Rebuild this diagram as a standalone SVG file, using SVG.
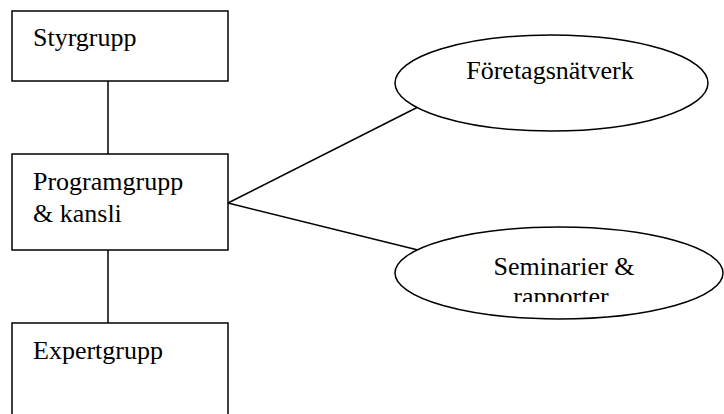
<svg xmlns="http://www.w3.org/2000/svg" width="724" height="414" viewBox="0 0 724 414">
<style>
.box{fill:#fff;stroke:#000;stroke-width:1.5}
.conn line{stroke:#000;stroke-width:1.5}
text{font-family:"Liberation Serif","Times New Roman",serif;font-size:26px;fill:#000}
.c{text-anchor:middle}
</style>
<defs>
<clipPath id="clipSem"><rect x="400" y="240" width="320" height="62"/></clipPath>
</defs>
<g id="connectors" class="conn">
<line x1="108" y1="81" x2="108" y2="154"/>
<line x1="108" y1="250" x2="108" y2="323"/>
<line x1="228" y1="203" x2="418" y2="107"/>
<line x1="228" y1="203" x2="418" y2="250"/>
</g>
<g id="styrgrupp">
<rect class="box" x="12" y="11" width="216" height="70"/>
<text x="33" y="46">Styrgrupp</text>
</g>
<g id="programgrupp">
<rect class="box" x="12" y="154" width="216" height="96"/>
<text x="33" y="190">Programgrupp</text>
<text x="33" y="222">&amp; kansli</text>
</g>
<g id="expertgrupp">
<rect class="box" x="12" y="323" width="216" height="110"/>
<text x="33" y="359">Expertgrupp</text>
</g>
<g id="foretagsnatverk">
<ellipse class="box" cx="551.5" cy="83" rx="156.5" ry="48"/>
<text class="c" x="550" y="79">Företagsnätverk</text>
</g>
<g id="seminarier">
<ellipse class="box" cx="559" cy="273" rx="164" ry="46"/>
<g clip-path="url(#clipSem)">
<text class="c" x="564" y="275">Seminarier &amp;</text>
<text class="c" x="561" y="305">rapporter</text>
</g>
</g>
</svg>
